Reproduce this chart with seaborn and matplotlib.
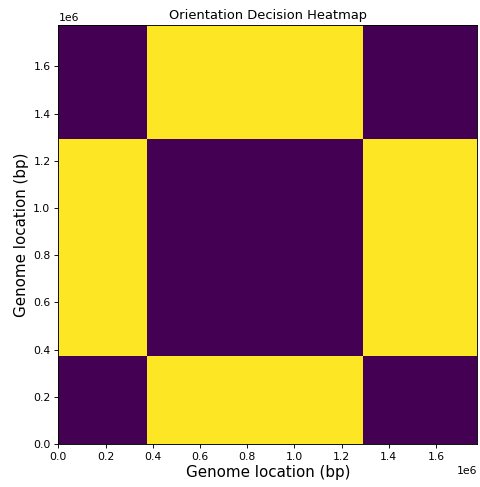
import numpy as np
import pandas as pd
import matplotlib
matplotlib.use("Agg")
import matplotlib.pyplot as plt
import seaborn as sns

# Block boundaries along the genome (bp)
block_edges = [0, 374500, 1290000, 1775000]
# Orientation decision per block pair (rows = y blocks bottom->top, cols = x blocks left->right)
decision = [
    [0, 1, 0],
    [1, 0, 1],
    [0, 1, 0],
]
title = "Orientation Decision Heatmap"
xlabel = "Genome location (bp)"
ylabel = "Genome location (bp)"

edges = np.array(block_edges, dtype=float)
centers = (edges[:-1] + edges[1:]) / 2
rows = []
for i, yc in enumerate(centers):
    for j, xc in enumerate(centers):
        rows.append({"x": xc, "y": yc, "w": decision[i][j]})
df = pd.DataFrame(rows)

fig = plt.figure(figsize=(4.8, 4.87), dpi=100)
ax = fig.add_axes([58.3 / 480, 43 / 487, 419 / 480, 419 / 487])

sns.histplot(data=df, x="x", y="y", weights="w", bins=[edges, edges],
             thresh=None, cmap="viridis", cbar=False, ax=ax,
             vmin=0, vmax=1)

ax.set_xlim(edges[0], edges[-1])
ax.set_ylim(edges[0], edges[-1])
ax.set_xticks(np.arange(0, 1.7e6, 0.2e6))
ax.set_yticks(np.arange(0, 1.7e6, 0.2e6))
ax.ticklabel_format(style="sci", axis="both", scilimits=(0, 0))
ax.tick_params(labelsize=7.8, length=2.8, width=0.65, pad=2.8)
ax.xaxis.get_offset_text().set_fontsize(7.8)
ax.yaxis.get_offset_text().set_fontsize(7.8)
for s in ax.spines.values():
    s.set_linewidth(0.65)
ax.set_title(title, fontsize=9.4, pad=4)
ax.set_xlabel(xlabel, fontsize=10.9, labelpad=2)
ax.set_ylabel(ylabel, fontsize=10.9, labelpad=3)

fig.savefig("out.png", dpi=100)
